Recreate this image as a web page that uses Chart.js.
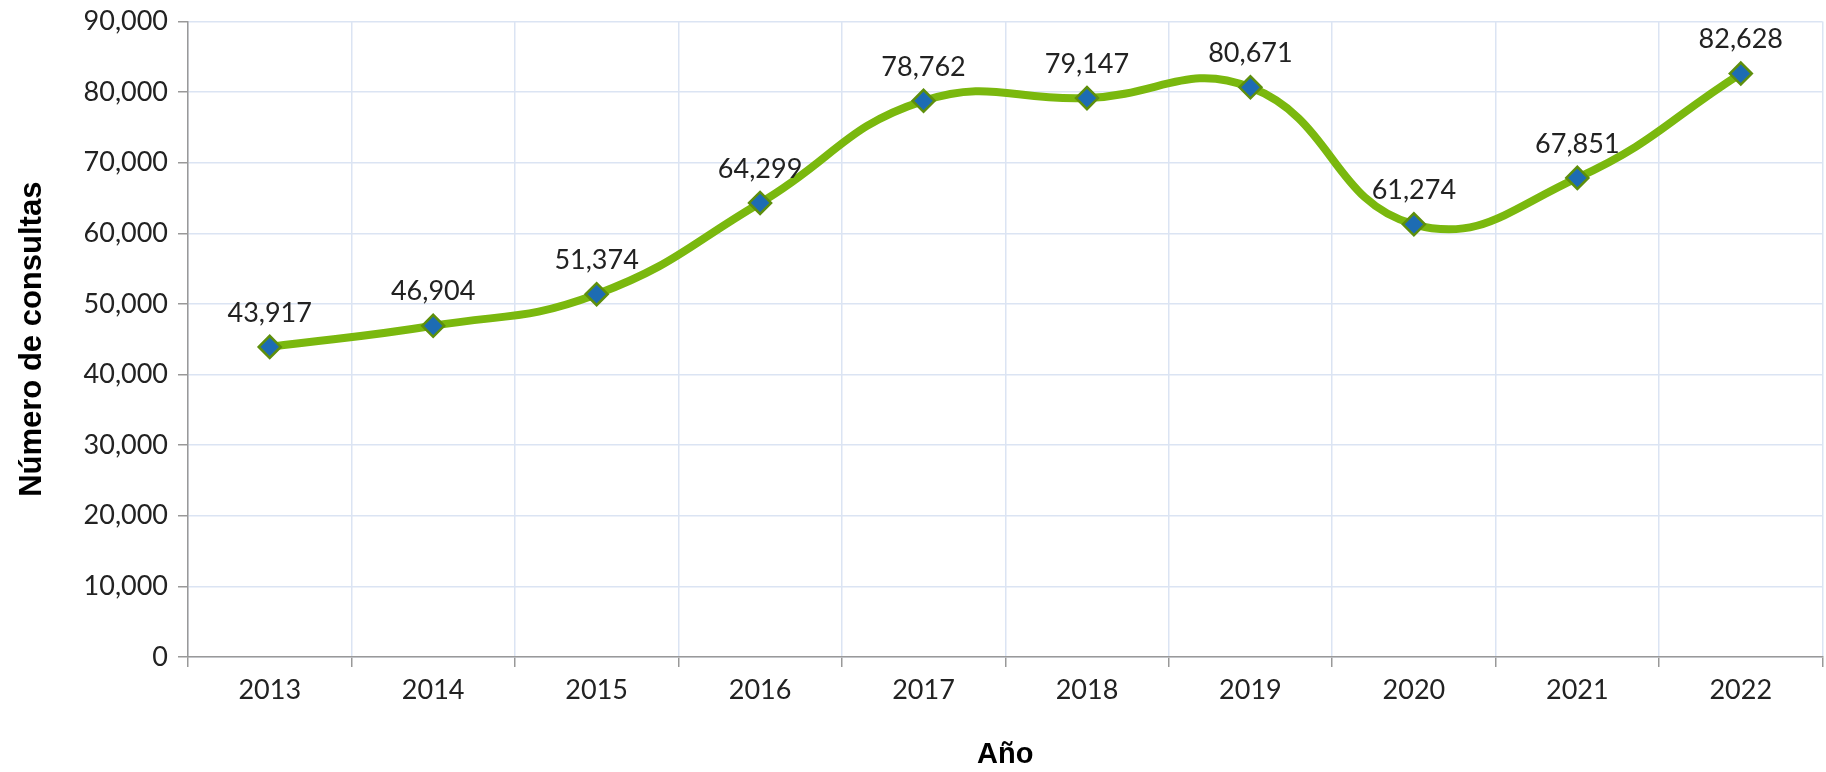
<!DOCTYPE html>
<html>
<head>
<meta charset="utf-8">
<script src="https://cdn.jsdelivr.net/npm/chart.js@4"></script>
<style>
  html, body { margin: 0; padding: 0; background: #fff; overflow: hidden; }
  #wrap { width: 1836px; height: 772px; }
</style>
</head>
<body>
<div id="wrap"><canvas id="chart"></canvas></div>
<script>
// chart data
const years = ['2013', '2014', '2015', '2016', '2017', '2018', '2019', '2020', '2021', '2022'];
const consultas = [43917, 46904, 51374, 64299, 78762, 79147, 80671, 61274, 67851, 82628];

const tickFont = { family: 'Lato, "Noto Sans", sans-serif', size: 27 };

// draws the value above every point
const valueLabels = {
    id: 'valueLabels',
    afterDatasetsDraw(chart) {
        const ctx = chart.ctx;
        const meta = chart.getDatasetMeta(0);
        ctx.save();
        ctx.font = '27px Lato, "Noto Sans", sans-serif';
        ctx.fillStyle = '#222';
        ctx.textAlign = 'center';
        ctx.textBaseline = 'middle';
        meta.data.forEach(function(pt, i) {
            ctx.fillText(consultas[i].toLocaleString('en-US'), pt.x, pt.y - 34);
        });
        ctx.restore();
    }
};

const ctx = document.getElementById('chart').getContext('2d');
new Chart(ctx, {
    type: 'line',
    data: {
        labels: years,
        datasets: [{
            data: consultas,
            borderColor: '#7ab80e',
            borderWidth: 8,
            tension: 0.45,
            pointStyle: 'rectRot',
            pointRadius: 11,
            pointHoverRadius: 11,
            pointBackgroundColor: '#1d6cb3',
            pointBorderColor: '#5e8f0c',
            pointBorderWidth: 2.5
        }]
    },
    options: {
        responsive: true,
        maintainAspectRatio: false,
        animation: false,
        layout: { padding: { top: 0, right: 0, left: 0, bottom: 0 } },
        plugins: {
            legend: { display: false },
            tooltip: { enabled: false }
        },
        scales: {
            x: {
                offset: true,
                grid: {
                    offset: true,
                    color: '#dbe4f3',
                    lineWidth: 1.5,
                    drawTicks: true,
                    tickLength: 10,
                    tickColor: '#999'
                },
                border: { color: '#999', width: 1.5 },
                ticks: { font: tickFont, color: '#222', padding: 7, maxRotation: 0 },
                title: {
                    display: true,
                    text: 'Año',
                    font: { family: 'Arial, "Liberation Sans", sans-serif', size: 29, weight: 'bold' },
                    color: '#000',
                    padding: { top: 10, bottom: 0 }
                },
                afterFit: function(scale) { scale.height = 115; }
            },
            y: {
                min: 0,
                max: 90000,
                grid: {
                    color: '#dbe4f3',
                    lineWidth: 1.5,
                    tickLength: 10,
                    tickColor: '#999'
                },
                border: { color: '#999', width: 1.5 },
                ticks: {
                    stepSize: 10000,
                    font: { family: 'Lato, "Noto Sans", sans-serif', size: 27, lineHeight: 0.85 },
                    color: '#222',
                    padding: 10,
                    callback: function(v) { return v.toLocaleString('en-US'); }
                },
                title: {
                    display: true,
                    text: 'Número de consultas',
                    font: { family: 'Arial, "Liberation Sans", sans-serif', size: 31, weight: 'bold' },
                    color: '#000',
                    padding: { top: 14, bottom: 10 }
                },
                afterFit: function(scale) { scale.width = 188; }
            }
        }
    },
    plugins: [valueLabels]
});
</script>
</body>
</html>
